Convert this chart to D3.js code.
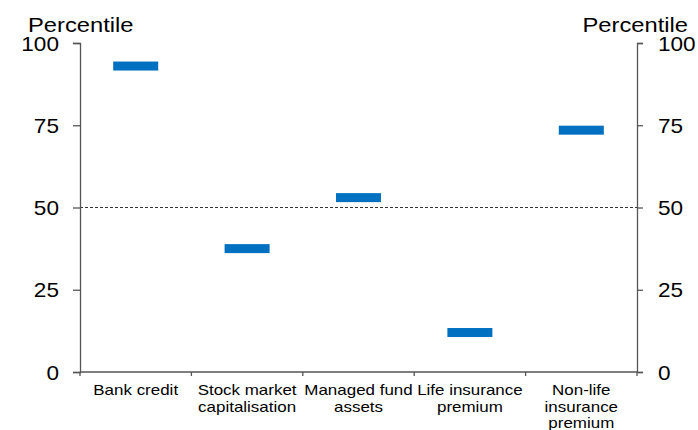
<!DOCTYPE html>
<html>
<head>
<meta charset="utf-8">
<script src="https://cdn.jsdelivr.net/npm/d3@7"></script>
<style>
  body { margin: 0; background: #fff; }
  svg text { font-family: "Liberation Sans", Arial, sans-serif; fill: #000; }
</style>
</head>
<body>
<svg id="chart" width="698" height="430"></svg>
<script>
// categories and percentile values
const categories = [
  ["Bank credit"],
  ["Stock market", "capitalisation"],
  ["Managed fund", "assets"],
  ["Life insurance", "premium"],
  ["Non-life", "insurance", "premium"]
];
const values = [93, 37.5, 53, 12, 73.5];
const yTicks = [0, 25, 50, 75, 100];

let margin = {top: 43, right: 61, bottom: 58, left: 80};
let width = 698 - margin.left - margin.right;
let height = 430 - margin.top - margin.bottom;
let sx = 1.13; // text in the original is a bit wider than Arial

let svg = d3.select("#chart");
let g = svg.append("g").attr("transform", `translate(${margin.left},${margin.top})`);

let x = d3.scaleBand().domain(d3.range(categories.length)).range([0, width]);
let y = d3.scaleLinear().domain([0, 100]).range([height, 0]);

// reference line at 50
g.append("line")
  .attr("x1", 0).attr("x2", width)
  .attr("y1", y(50)).attr("y2", y(50))
  .attr("stroke", "#333").attr("stroke-width", 1)
  .attr("stroke-dasharray", "3,2");

// left and right axes, labels redrawn so they can be stretched
let left = g.append("g").call(d3.axisLeft(y).tickValues(yTicks).tickSize(7));
let right = g.append("g").attr("transform", `translate(${width},0)`)
  .call(d3.axisRight(y).tickValues(yTicks).tickSize(6));
[left, right].forEach(a => {
  a.select(".domain").attr("stroke", "#555").attr("stroke-width", 1.3);
  a.selectAll(".tick line").attr("stroke", "#555").attr("stroke-width", 1.3);
  a.selectAll(".tick text").remove();
});
left.selectAll(".tick").append("text")
  .attr("text-anchor", "end")
  .attr("transform", `translate(-21,0) scale(${sx},1)`)
  .attr("dy", "0.36em")
  .style("font-size", "20px")
  .text(d => d);
right.selectAll(".tick").append("text")
  .attr("text-anchor", "start")
  .attr("transform", `translate(21,0) scale(${sx},1)`)
  .attr("dy", "0.36em")
  .style("font-size", "20px")
  .text(d => d);

// bottom axis line with ticks at band boundaries
g.append("line")
  .attr("x1", 0).attr("x2", width)
  .attr("y1", height).attr("y2", height)
  .attr("stroke", "#555").attr("stroke-width", 1.3);
g.selectAll(".btick")
  .data(d3.range(categories.length + 1))
  .join("line")
  .attr("x1", i => i * x.step()).attr("x2", i => i * x.step())
  .attr("y1", height).attr("y2", height + 4)
  .attr("stroke", "#555").attr("stroke-width", 1.3);

// category labels
g.selectAll(".cat")
  .data(categories)
  .join("text")
  .attr("text-anchor", "middle")
  .style("font-size", "15px")
  .attr("transform", (d, i) => `translate(${x(i) + x.bandwidth() / 2},${height + 23}) scale(${sx},1)`)
  .each(function(lines) {
    d3.select(this).selectAll("tspan")
      .data(lines)
      .join("tspan")
      .attr("x", 0)
      .attr("dy", (l, j) => j === 0 ? 0 : 16.7)
      .text(l => l);
  });

// markers
let markW = 45, markH = 9;
g.selectAll(".mark")
  .data(values)
  .join("rect")
  .attr("x", (d, i) => x(i) + x.bandwidth() / 2 - markW / 2)
  .attr("y", d => y(d) - markH / 2)
  .attr("width", markW)
  .attr("height", markH)
  .attr("fill", "#0070c0");

// axis titles
svg.append("text").attr("transform", `translate(28,31.5) scale(${sx},1)`)
  .style("font-size", "21px").text("Percentile");
svg.append("text").attr("transform", `translate(688,31.5) scale(${sx},1)`)
  .attr("text-anchor", "end").style("font-size", "21px").text("Percentile");
</script>
</body>
</html>
